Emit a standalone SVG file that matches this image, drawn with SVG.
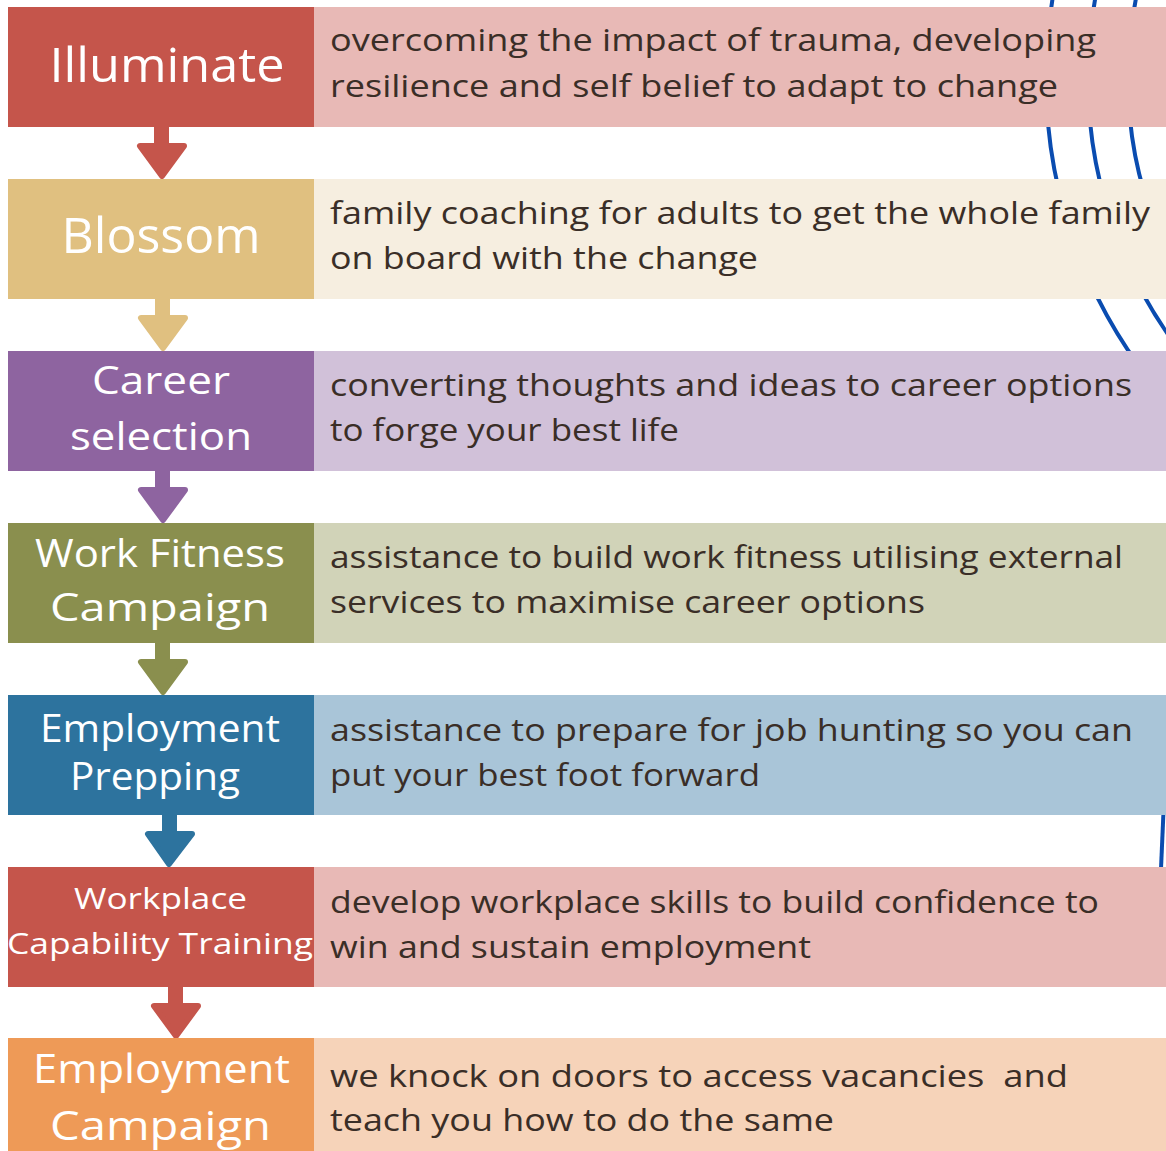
<svg xmlns="http://www.w3.org/2000/svg" width="1166" height="1151" viewBox="0 0 1166 1151">
<style>
.lbl{font-family:"Open Sans","Liberation Sans",sans-serif;fill:#ffffff;text-anchor:middle;}
.desc{font-family:"Open Sans","Liberation Sans",sans-serif;font-size:31px;fill:#3a2e27;}
.arc{fill:none;stroke:#0a4cb0;stroke-width:4;}
</style>
<rect width="1166" height="1151" fill="#ffffff"/>
<g id="decor">
<circle class="arc" cx="1535" cy="79" r="489"/>
<circle class="arc" cx="1535" cy="79" r="447"/>
<circle class="arc" cx="1535" cy="79" r="407"/>
<path class="arc" d="M1164,800 L1160.5,880"/>
</g>
<g id="connectors" stroke-linejoin="round" stroke-width="6">
<g fill="#c5554b" stroke="#c5554b"><rect x="154" y="127" width="15" height="20" stroke="none"/><path d="M140,146 L184,146 L162,176 Z"/></g>
<g fill="#e0c080" stroke="#e0c080"><rect x="155" y="299" width="15" height="20" stroke="none"/><path d="M141,318 L185,318 L163,348 Z"/></g>
<g fill="#8e64a0" stroke="#8e64a0"><rect x="155" y="471" width="15" height="20" stroke="none"/><path d="M141,490 L185,490 L163,520 Z"/></g>
<g fill="#8a8f4e" stroke="#8a8f4e"><rect x="155" y="643" width="15" height="20" stroke="none"/><path d="M141,662 L185,662 L163,692 Z"/></g>
<g fill="#2d739e" stroke="#2d739e"><rect x="162" y="815" width="15" height="20" stroke="none"/><path d="M148,834 L192,834 L169,864 Z"/></g>
<g fill="#c5554b" stroke="#c5554b"><rect x="168" y="987" width="15" height="20" stroke="none"/><path d="M154,1006 L198,1006 L176,1036 Z"/></g>
</g>
<g id="illuminate">
<rect x="8" y="7" width="306" height="120" fill="#c5554b"/>
<rect x="314" y="7" width="852" height="120" fill="#e8b9b6"/>
<text class="lbl" x="167" y="82" font-size="48" textLength="235" lengthAdjust="spacingAndGlyphs">Illuminate</text>
<text class="desc" x="330" y="51" textLength="766" lengthAdjust="spacingAndGlyphs">overcoming the impact of trauma, developing</text>
<text class="desc" x="330" y="97" textLength="728" lengthAdjust="spacingAndGlyphs">resilience and self belief to adapt to change</text>
</g>
<g id="blossom">
<rect x="8" y="179" width="306" height="120" fill="#e0c080"/>
<rect x="314" y="179" width="852" height="120" fill="#f6eee0"/>
<text class="lbl" x="161" y="253" font-size="49" textLength="199" lengthAdjust="spacingAndGlyphs">Blossom</text>
<text class="desc" x="330" y="224" textLength="820" lengthAdjust="spacingAndGlyphs">family coaching for adults to get the whole family</text>
<text class="desc" x="330" y="269" textLength="428" lengthAdjust="spacingAndGlyphs">on board with the change</text>
</g>
<g id="career-selection">
<rect x="8" y="351" width="306" height="120" fill="#8e64a0"/>
<rect x="314" y="351" width="852" height="120" fill="#d1c1d9"/>
<text class="lbl" x="161" y="394" font-size="39" textLength="138" lengthAdjust="spacingAndGlyphs">Career</text>
<text class="lbl" x="161" y="450" font-size="39" textLength="182" lengthAdjust="spacingAndGlyphs">selection</text>
<text class="desc" x="330" y="396" textLength="802" lengthAdjust="spacingAndGlyphs">converting thoughts and ideas to career options</text>
<text class="desc" x="330" y="441" textLength="349" lengthAdjust="spacingAndGlyphs">to forge your best life</text>
</g>
<g id="work-fitness">
<rect x="8" y="523" width="306" height="120" fill="#8a8f4e"/>
<rect x="314" y="523" width="852" height="120" fill="#d1d3b8"/>
<text class="lbl" x="160" y="567" font-size="39" textLength="250" lengthAdjust="spacingAndGlyphs">Work Fitness</text>
<text class="lbl" x="160" y="621" font-size="39" textLength="220" lengthAdjust="spacingAndGlyphs">Campaign</text>
<text class="desc" x="330" y="568" textLength="793" lengthAdjust="spacingAndGlyphs">assistance to build work fitness utilising external</text>
<text class="desc" x="330" y="613" textLength="595" lengthAdjust="spacingAndGlyphs">services to maximise career options</text>
</g>
<g id="employment-prepping">
<rect x="8" y="695" width="306" height="120" fill="#2d739e"/>
<rect x="314" y="695" width="852" height="120" fill="#a9c5d8"/>
<text class="lbl" x="160" y="742" font-size="38" textLength="240" lengthAdjust="spacingAndGlyphs">Employment</text>
<text class="lbl" x="155" y="790" font-size="38" textLength="170" lengthAdjust="spacingAndGlyphs">Prepping</text>
<text class="desc" x="330" y="741" textLength="803" lengthAdjust="spacingAndGlyphs">assistance to prepare for job hunting so you can</text>
<text class="desc" x="330" y="786" textLength="430" lengthAdjust="spacingAndGlyphs">put your best foot forward</text>
</g>
<g id="workplace-capability">
<rect x="8" y="867" width="306" height="120" fill="#c5554b"/>
<rect x="314" y="867" width="852" height="120" fill="#e8b9b6"/>
<text class="lbl" x="160.5" y="909" font-size="30" textLength="173" lengthAdjust="spacingAndGlyphs">Workplace</text>
<text class="lbl" x="160" y="954" font-size="30" textLength="306" lengthAdjust="spacingAndGlyphs">Capability Training</text>
<text class="desc" x="330" y="913" textLength="769" lengthAdjust="spacingAndGlyphs">develop workplace skills to build confidence to</text>
<text class="desc" x="330" y="958" textLength="481" lengthAdjust="spacingAndGlyphs">win and sustain employment</text>
</g>
<g id="employment-campaign">
<rect x="8" y="1038" width="306" height="113" fill="#ee9a57"/>
<rect x="314" y="1038" width="852" height="113" fill="#f6d3b9"/>
<text class="lbl" x="161.5" y="1083" font-size="40" textLength="257" lengthAdjust="spacingAndGlyphs">Employment</text>
<text class="lbl" x="160.5" y="1140" font-size="40" textLength="221" lengthAdjust="spacingAndGlyphs">Campaign</text>
<text class="desc" x="330" y="1087" textLength="738" lengthAdjust="spacingAndGlyphs" style="white-space:pre" xml:space="preserve">we knock on doors to access vacancies  and</text>
<text class="desc" x="330" y="1131" textLength="504" lengthAdjust="spacingAndGlyphs">teach you how to do the same</text>
</g>
</svg>
